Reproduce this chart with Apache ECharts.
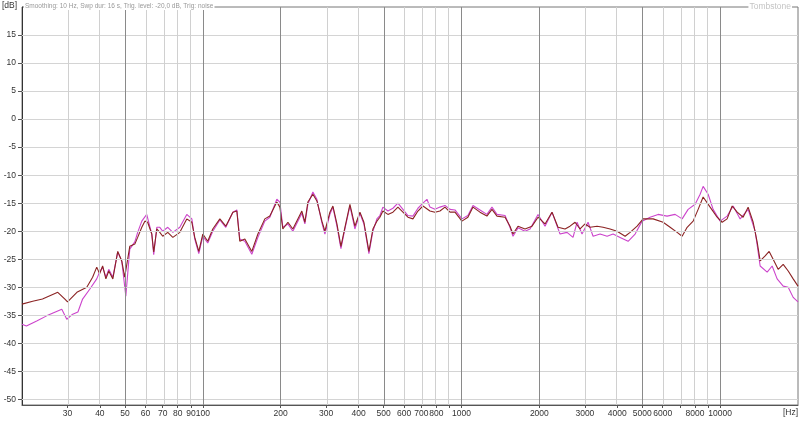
<!DOCTYPE html>
<html>
<head>
<meta charset="utf-8">
<script src="https://cdn.jsdelivr.net/npm/echarts@6/dist/echarts.min.js"></script>
<style>
html,body{margin:0;padding:0;background:#fff;}
#chart{width:800px;height:425px;}
</style>
</head>
<body>
<div id="chart"></div>
<script>
// Brown trace (frequency in Hz, level in dB)
const freqA = [20,22,24,27.5,29.3,30,32.6,35.6,37.5,38.9,39.9,41,42.2,43.3,44.9,46.9,48.6,49.9,52.2,54.6,56,58.1,59.7,61.2,63.5,64.6,66.4,68.2,70,73.2,76.6,81.5,86.7,90.7,93.1,96.5,100,104.5,109.3,116.4,122.7,130.7,135.4,139,145.4,154.7,163.3,173.7,181.6,193.3,198.6,203.9,213.3,222.9,233.1,241.5,248.1,254.8,266.4,276.1,288.7,296.5,310,318.4,330,342,354.4,370.5,387.3,405,419.6,438.7,454.6,471,483.8,496.9,519.5,543.3,568,593.9,620.9,649.2,678.8,709.7,755.4,789.8,825.8,863.5,902.8,944,1004,1059,1108,1179,1254,1312,1372,1474,1540,1582,1654,1761,1874,1977,2104,2239,2362,2514,2628,2749,2873,3004,3142,3344,3528,3754,3996,4292,4487,4776,5037,5507,6020,6407,6820,7129,7455,7864,8222,8596,9148,9736,10180,10640,11130,11640,12270,12830,13420,13900,14280,14930,15470,16030,16760,17530,18330,19160,20000];
const dbA = [-33.0,-32.5,-32.1,-30.9,-32.1,-32.6,-30.9,-30.0,-28.2,-26.4,-27.6,-26.2,-28.5,-27.1,-28.5,-23.6,-25.3,-28.2,-22.7,-22.3,-21.1,-19.3,-18.2,-18.4,-20.5,-23.7,-19.6,-20.2,-20.9,-20.2,-21.1,-20.2,-17.8,-18.4,-21.1,-23.6,-20.5,-21.8,-19.6,-17.8,-19.1,-16.6,-16.4,-21.8,-21.4,-23.6,-20.5,-17.8,-17.3,-14.8,-15.7,-19.6,-18.4,-19.6,-17.8,-16.4,-18.4,-14.8,-13.4,-14.6,-18.2,-20.0,-16.6,-15.5,-18.7,-22.7,-19.3,-15.2,-19.1,-16.6,-18.4,-23.6,-19.6,-18.2,-17.5,-16.4,-17.0,-16.6,-15.7,-16.6,-17.5,-17.8,-16.4,-15.5,-16.4,-16.6,-16.4,-15.7,-16.6,-16.6,-18.2,-17.5,-15.7,-16.6,-17.3,-16.1,-17.3,-17.5,-19.1,-20.5,-19.1,-19.6,-19.1,-17.5,-18.7,-16.6,-19.3,-19.6,-19.1,-18.4,-19.6,-18.7,-19.3,-19.1,-19.3,-19.6,-20.0,-20.9,-20.2,-19.1,-17.8,-17.8,-18.4,-19.3,-20.2,-20.9,-19.3,-18.2,-16.1,-13.9,-15.7,-17.5,-18.4,-17.8,-15.5,-16.6,-17.5,-15.7,-18.4,-21.9,-25.3,-24.4,-23.6,-25.0,-26.8,-25.9,-27.1,-28.5,-29.8];
// Magenta trace
const freqB = [20,20.8,22.8,24.9,27.2,28.5,29.8,30,31.4,32.9,34.3,36.6,38.9,39.9,41,42.2,43.3,44.9,46.9,48.6,50.4,52.2,54.6,56,58.1,60.7,63.5,64.6,66.4,68.2,70,73.2,76.6,81.5,86.7,90.7,93.1,96.5,100,104.5,109.3,116.4,122.7,130.7,135.4,139,145.4,154.7,163.3,173.7,181.6,193.3,198.6,203.9,213.3,222.9,233.1,241.5,248.1,254.8,266.4,276.1,288.7,296.5,310,318.4,330,342,354.4,370.5,387.3,405,419.6,438.7,454.6,471,483.8,496.9,519.5,543.3,568,593.9,620.9,649.2,678.8,709.7,735.5,755.4,789.8,825.8,863.5,902.8,944,1004,1059,1108,1179,1254,1312,1372,1474,1540,1582,1654,1761,1841,1977,2104,2239,2404,2559,2700,2798,2925,3086,3227,3435,3656,3856,4105,4408,4691,4993,5360,5757,6237,6699,7129,7521,8005,8369,8596,8987,9395,10000,10640,11230,11950,12830,13660,14280,15200,15890,16610,17530,18330,19160,20000];
const dbB = [-36.6,-36.9,-36.0,-35.1,-34.3,-33.9,-35.7,-36.0,-34.8,-34.4,-32.1,-30.3,-28.5,-27.3,-26.4,-28.2,-26.8,-28.2,-23.7,-25.3,-31.6,-23.2,-21.9,-20.2,-18.2,-17.0,-20.5,-24.2,-19.3,-19.3,-20.0,-19.3,-20.2,-19.3,-17.0,-17.8,-21.4,-24.0,-20.9,-22.1,-20.0,-18.0,-19.3,-16.6,-16.2,-21.4,-21.8,-24.1,-21.1,-18.2,-17.5,-14.3,-14.8,-19.3,-18.7,-20.0,-18.2,-16.8,-18.7,-15.2,-13.0,-14.3,-18.5,-20.5,-17.0,-15.7,-19.1,-23.1,-19.6,-15.5,-19.6,-16.8,-18.7,-24.0,-20.0,-17.8,-17.2,-15.7,-16.4,-15.9,-15.0,-16.1,-17.2,-17.3,-15.9,-15.0,-14.3,-15.7,-16.1,-15.7,-15.4,-16.1,-16.2,-17.8,-17.2,-15.4,-16.2,-17.0,-15.7,-17.0,-17.2,-19.3,-20.9,-19.4,-20.0,-19.6,-17.0,-19.1,-16.6,-20.5,-20.2,-21.1,-18.4,-20.5,-18.4,-20.9,-20.5,-20.9,-20.5,-21.1,-21.8,-20.5,-18.2,-17.5,-17.0,-17.3,-17.0,-17.8,-16.1,-15.2,-13.4,-12.0,-13.4,-16.1,-18.2,-17.3,-15.5,-17.8,-16.1,-20.0,-26.2,-27.3,-26.2,-28.5,-29.8,-30.0,-31.8,-32.6];

// Axis ticks / grid
const xLabelHz = [30,40,50,60,70,80,90,100,200,300,400,500,600,700,800,1000,2000,3000,4000,5000,6000,8000,10000];
const gridMajorHz = [50,100,200,500,1000,2000,5000,10000];
const gridMinorHz = [30,40,60,70,80,90,300,400,600,700,800,900,3000,4000,6000,7000,8000,9000];
const yLabelDb = [15,10,5,0,-5,-10,-15,-20,-25,-30,-35,-40,-45,-50];
const xMinHz = 20, xMaxHz = 20000, yMinDb = -51, yMaxDb = 20;

const titleText = 'Smoothing: 10 Hz, Swp dur: 16 s, Trig. level: -20,0 dB, Trig: noise';
const brandText = 'Tombstone';

const L = Math.log10;
const toPts = (f, d) => f.map((v, i) => [L(v), d[i]]);
const allTickHz = gridMajorHz.concat(gridMinorHz).sort((a,b)=>a-b);

const chart = echarts.init(document.getElementById('chart'), null, {renderer: 'canvas'});
const font = 'Liberation Sans, Arial, sans-serif';

chart.setOption({
  animation: false,
  backgroundColor: '#fff',
  grid: {left: 22, right: 2, top: 7, bottom: 20, show: true, borderColor: '#777', borderWidth: 1, backgroundColor: 'transparent'},
  xAxis: {
    type: 'value', min: L(xMinHz), max: L(xMaxHz),
    axisLine: {show: true, onZero: false, lineStyle: {color: '#555'}},
    splitLine: {show: false},
    axisTick: {show: true, customValues: allTickHz.map(L), length: 3, lineStyle: {color: '#555'}},
    axisLabel: {customValues: xLabelHz.map(L), formatter: v => String(Math.round(Math.pow(10, v))),
      color: '#333', fontSize: 8.5, fontFamily: font, margin: 4}
  },
  yAxis: {
    type: 'value', min: yMinDb, max: yMaxDb,
    axisLine: {show: true, onZero: false, lineStyle: {color: '#333'}},
    splitLine: {show: false},
    axisTick: {show: true, customValues: yLabelDb, length: 4, lineStyle: {color: '#555'}},
    axisLabel: {customValues: yLabelDb, color: '#333', fontSize: 8.5, fontFamily: font, margin: 6}
  },
  series: [
    {
      type: 'line', data: [], z: 1, silent: true,
      markLine: {
        silent: true, symbol: ['none','none'], animation: false,
        label: {show: false},
        data: [].concat(
          yLabelDb.map(v => ({yAxis: v, lineStyle: {color: '#d4d4d4', width: 1, type: 'solid'}})),
          gridMinorHz.map(v => ({xAxis: L(v), lineStyle: {color: '#d0d0d0', width: 1, type: 'solid'}})),
          gridMajorHz.map(v => ({xAxis: L(v), lineStyle: {color: '#8a8a8a', width: 1, type: 'solid'}}))
        )
      }
    },
    {
      name: 'B', type: 'line', data: toPts(freqB, dbB), z: 3, showSymbol: false, symbol: 'none',
      lineStyle: {color: '#cc44cc', width: 1.1}
    },
    {
      name: 'A', type: 'line', data: toPts(freqA, dbA), z: 4, showSymbol: false, symbol: 'none',
      lineStyle: {color: '#8b2323', width: 1.1}
    }
  ],
  graphic: [
    {type: 'text', left: 2, top: 1, style: {text: '[dB]', fill: '#333', font: '8.5px ' + font}},
    {type: 'text', left: 24, top: 3, z: 10, style: {text: titleText, fill: '#999', font: '6.5px ' + font, backgroundColor: '#fff', padding: [0, 1]}},
    {type: 'text', right: 8, top: 2, z: 10, style: {text: brandText, fill: '#c4c4c4', font: '8.5px ' + font, backgroundColor: '#fff', padding: [0, 1]}},
    {type: 'text', right: 2, top: 408, style: {text: '[Hz]', fill: '#333', font: '8.5px ' + font}}
  ]
});
</script>
</body>
</html>
